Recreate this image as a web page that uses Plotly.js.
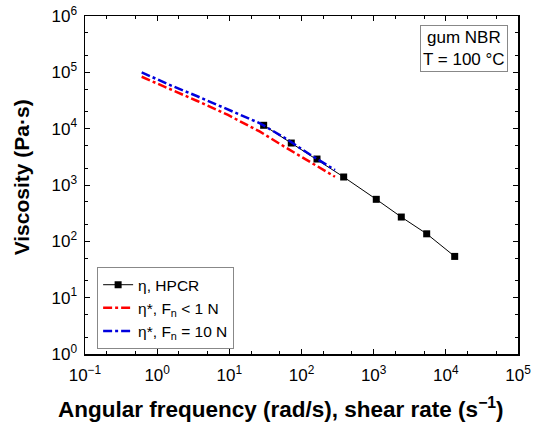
<!DOCTYPE html>
<html><head><meta charset="utf-8">
<script src="https://cdn.plot.ly/plotly-3.0.1.min.js"></script>
<style>body{margin:0;background:#fff}#c{width:550px;height:429px}</style>
</head><body><div id="c"></div>
<script>
// HPCR (capillary) data
const hpcrX = [29.9, 72.2, 164, 384, 1087, 2414, 5430, 13270];
const hpcrY = [11480, 5560, 2890, 1387, 557, 270, 136, 54];
// Oscillatory eta*, Fn < 1 N
const redX = [0.61, 1.46, 3.53, 9.58, 26.6, 59, 131, 291];
const redY = [83500, 51600, 31300, 17500, 8830, 4720, 2560, 1400];
// Oscillatory eta*, Fn = 10 N
const blueX = [0.61, 1.46, 3.53, 9.58, 26.6, 59, 131, 291];
const blueY = [100000, 60400, 38000, 21900, 12450, 6820, 3475, 1845];

const names = ["η, HPCR", "η*, F<sub>n</sub> &lt; 1 N", "η*, F<sub>n</sub> = 10 N"];
const xTickVals = [0.1, 1, 10, 100, 1000, 10000, 100000];
const xTickText = ["10<sup>−1</sup>", "10<sup>0</sup>", "10<sup>1</sup>", "10<sup>2</sup>", "10<sup>3</sup>", "10<sup>4</sup>", "10<sup>5</sup>"];
const yTickVals = [1, 10, 100, 1000, 10000, 100000, 1000000];
const yTickText = ["10<sup>0</sup>", "10<sup>1</sup>", "10<sup>2</sup>", "10<sup>3</sup>", "10<sup>4</sup>", "10<sup>5</sup>", "10<sup>6</sup>"];
const xTitle = "Angular frequency (rad/s), shear rate (s<sup>−1</sup>)";
const yTitle = "Viscosity (Pa·s)";
const boxText = "gum NBR<br>T = 100 °C";

const font = "Liberation Sans, Arial, sans-serif";

const traces = [
  {x: hpcrX, y: hpcrY, name: names[0], mode: "lines+markers",
   line: {color: "#000", width: 1}, marker: {symbol: "square", size: 7, color: "#000"}},
  {x: redX, y: redY, name: names[1], mode: "lines",
   line: {color: "#ff0000", width: 2.5, dash: "dashdot"}},
  {x: blueX, y: blueY, name: names[2], mode: "lines",
   line: {color: "#0000dd", width: 2.5, dash: "dashdot"}}
];

const axisCommon = {
  type: "log", showline: true, linecolor: "#000", linewidth: 1.5, mirror: "ticks",
  ticks: "inside", ticklen: 5, tickcolor: "#000", showgrid: false, zeroline: false,
  tickfont: {family: font, size: 17, color: "#000"},
  minor: {ticks: "inside", ticklen: 3, tickcolor: "#000", showgrid: false}
};

const layout = {
  width: 550, height: 429,
  margin: {l: 85, r: 32, t: 16, b: 75},
  paper_bgcolor: "#fff", plot_bgcolor: "#fff",
  showlegend: true,
  legend: {x: 0.028, y: 0.257, xanchor: "left", yanchor: "top",
           bordercolor: "#888", borderwidth: 1, bgcolor: "#fff",
           font: {family: font, size: 15.5, color: "#000"}, tracegroupgap: 0},
  xaxis: Object.assign({}, axisCommon, {
    range: [-1, 5], tickvals: xTickVals, ticktext: xTickText, ticklabelstandoff: 5
  }),
  yaxis: Object.assign({}, axisCommon, {
    range: [0, 6], tickvals: yTickVals, ticktext: yTickText, ticklabelstandoff: 3
  }),
  annotations: [
    {xref: "paper", yref: "paper", x: 0.978, y: 0.973, xanchor: "right", yanchor: "top",
     text: boxText, showarrow: false, align: "center",
     font: {family: font, size: 17, color: "#000"},
     bordercolor: "#888", borderwidth: 1, borderpad: 2, bgcolor: "#fff"},
    {xref: "paper", yref: "paper", x: 0.453, y: -0.16, xanchor: "center", yanchor: "middle",
     text: xTitle, showarrow: false,
     font: {family: font, size: 22.5, color: "#000", weight: "bold"}},
    {xref: "paper", yref: "paper", x: -0.146, y: 0.522, xanchor: "center", yanchor: "middle",
     text: yTitle, showarrow: false, textangle: -90,
     font: {family: font, size: 21, color: "#000", weight: "bold"}}
  ]
};

Plotly.newPlot("c", traces, layout, {displayModeBar: false, staticPlot: true});
</script></body></html>
